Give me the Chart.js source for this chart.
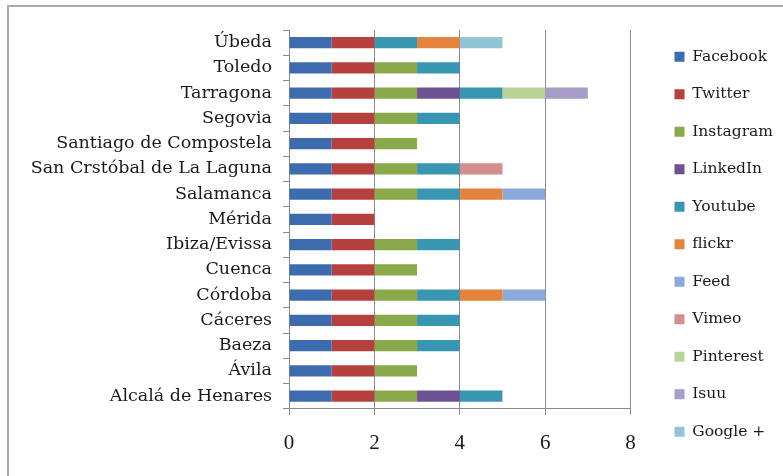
<!DOCTYPE html>
<html>
<head>
<meta charset="utf-8">
<script src="https://cdn.jsdelivr.net/npm/chart.js@4"></script>
<style>
  html, body { margin: 0; padding: 0; background: #fff; }
  #wrap { position: relative; width: 783px; height: 476px; overflow: hidden; }
  #frame {
    position: absolute; left: 7px; top: 5px; width: 800px; height: 500px;
    border-top: 2px solid #a9a9a9; border-left: 2px solid #a9a9a9;
  }
  canvas { position: absolute; left: 0; top: 0; }
</style>
</head>
<body>
<div id="wrap">
  <div id="frame"></div>
  <canvas id="socialChart" width="783" height="476"></canvas>
</div>
<script>
const cities = [
  "Úbeda", "Toledo", "Tarragona", "Segovia", "Santiago de Compostela",
  "San Crstóbal de La Laguna", "Salamanca", "Mérida", "Ibiza/Evissa", "Cuenca",
  "Córdoba", "Cáceres", "Baeza", "Ávila", "Alcalá de Henares"
];

// one value per city, top to bottom (null = not used)
const facebook  = [1, 1, 1, 1, 1, 1, 1, 1, 1, 1, 1, 1, 1, 1, 1];
const twitter   = [1, 1, 1, 1, 1, 1, 1, 1, 1, 1, 1, 1, 1, 1, 1];
const instagram = [null, 1, 1, 1, 1, 1, 1, null, 1, 1, 1, 1, 1, 1, 1];
const linkedin  = [null, null, 1, null, null, null, null, null, null, null, null, null, null, null, 1];
const youtube   = [1, 1, 1, 1, null, 1, 1, null, 1, null, 1, 1, 1, null, 1];
const flickr    = [1, null, null, null, null, null, 1, null, null, null, 1, null, null, null, null];
const feed      = [null, null, null, null, null, null, 1, null, null, null, 1, null, null, null, null];
const vimeo     = [null, null, null, null, null, 1, null, null, null, null, null, null, null, null, null];
const pinterest = [null, null, 1, null, null, null, null, null, null, null, null, null, null, null, null];
const isuu      = [null, null, 1, null, null, null, null, null, null, null, null, null, null, null, null];
const googlePlus = [1, null, null, null, null, null, null, null, null, null, null, null, null, null, null];

const xTicks = [0, 2, 4, 6, 8];

const series = [
  { label: "Facebook", data: facebook, color: "#3d6cae" },
  { label: "Twitter", data: twitter, color: "#b5403d" },
  { label: "Instagram", data: instagram, color: "#8aa94b" },
  { label: "LinkedIn", data: linkedin, color: "#6c5290" },
  { label: "Youtube", data: youtube, color: "#3896b0" },
  { label: "flickr", data: flickr, color: "#e4843c" },
  { label: "Feed", data: feed, color: "#8ba9d9" },
  { label: "Vimeo", data: vimeo, color: "#d38e8d" },
  { label: "Pinterest", data: pinterest, color: "#bcd398" },
  { label: "Isuu", data: isuu, color: "#a89cc9" },
  { label: "Google +", data: googlePlus, color: "#90c5d8" },
];

const axisGrey = "#8a8a8a";
const serif = "'DejaVu Serif'";

// empty axes, only used to hold space around the plot
const spacer = (size) => ({
  type: "linear",
  grid: { display: false },
  border: { display: false },
  ticks: { display: false },
  afterFit: (scale) => {
    if (scale.isHorizontal()) scale.height = size;
    else scale.width = size;
  },
});

new Chart(document.getElementById("socialChart"), {
  type: "bar",
  data: {
    labels: cities,
    datasets: series.map((s) => ({
      label: s.label,
      data: s.data,
      backgroundColor: s.color,
      borderWidth: 0,
      barPercentage: 0.44,
      categoryPercentage: 1,
    })),
  },
  options: {
    indexAxis: "y",
    responsive: false,
    animation: false,
    layout: {
      padding: { top: 27, left: 0, right: 0, bottom: 4 },
    },
    plugins: {
      tooltip: { enabled: false },
      legend: {
        position: "right",
        align: "start",
        labels: {
          boxWidth: 10,
          boxHeight: 10,
          padding: 22,
          color: "#1a1a1a",
          font: { family: serif, size: 15.5 },
        },
      },
    },
    scales: {
      x: {
        stacked: true,
        min: 0,
        max: 8,
        afterBuildTicks: (scale) => {
          scale.ticks = xTicks.map((v) => ({ value: v }));
        },
        grid: { color: axisGrey, tickLength: 6 },
        border: { color: axisGrey },
        ticks: {
          padding: 16,
          color: "#1a1a1a",
          font: { family: "'Liberation Serif'", size: 21 },
        },
      },
      y: {
        stacked: true,
        afterFit: (scale) => {
          scale.width = 289;
        },
        grid: { drawOnChartArea: false, color: axisGrey, tickLength: 6 },
        border: { color: axisGrey },
        ticks: {
          padding: 11,
          color: "#1a1a1a",
          font: { family: serif, size: 17.5 },
        },
      },
      xTop: { ...spacer(3), position: "top" },
      yGap: { ...spacer(22), position: "right" },
    },
  },
});
</script>
</body>
</html>
